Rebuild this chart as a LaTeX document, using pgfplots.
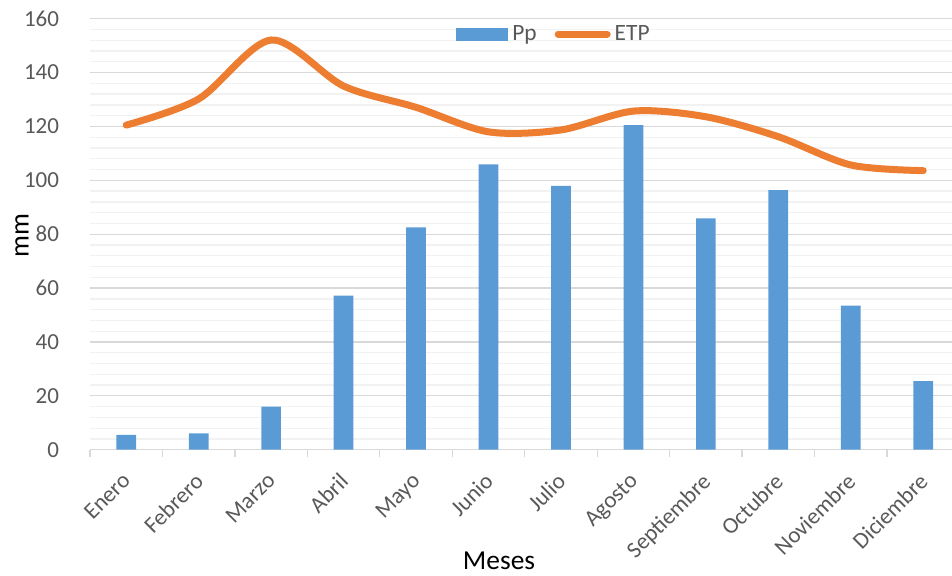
\documentclass[border=0pt]{standalone}
\usepackage{pgfplots}
\pgfplotsset{compat=1.18}
\usepackage{fontspec}
\setmainfont{Carlito}

\definecolor{ppblue}{HTML}{5B9BD5}
\definecolor{etporange}{HTML}{ED7D31}
\definecolor{majgrid}{HTML}{D9D9D9}
\definecolor{mingrid}{HTML}{F2F2F2}
\definecolor{ticktext}{HTML}{595959}

\begin{document}
\begin{tikzpicture}
\useasboundingbox (0,0) rectangle (476pt,287.5pt);
\begin{axis}[
  at={(45pt,62.65pt)}, anchor=south west,
  scale only axis,
  width=431pt, height=215.5pt,
  xmin=-0.5, xmax=11.397,
  ymin=0, ymax=160,
  ytick={0,20,...,160},
  minor y tick num=4,
  ymajorgrids, yminorgrids,
  major grid style={draw=majgrid, line width=0.65pt},
  minor grid style={draw=mingrid, line width=0.65pt},
  axis x line=bottom, axis y line=left,
  x axis line style={-, draw=majgrid, line width=0.65pt},
  y axis line style={draw=none},
  ytick style={draw=none},
  xtick={-0.5,0.5,...,10.5},
  xticklabels={Enero, Febrero, Marzo, Abril, Mayo, Junio, Julio, Agosto,
    Septiembre, Octubre, Noviembre, Diciembre},
  xtick style={draw=majgrid, line width=0.65pt},
  tick align=outside,
  major tick length=3.8pt,
  xticklabel style={xshift=15.5pt, yshift=-7pt, rotate=45, anchor=north east,
    inner sep=0pt, font=\fontsize{11.5}{13}\selectfont, text=ticktext},
  yticklabel style={anchor=east, inner sep=0pt, xshift=-11.5pt,
    font=\fontsize{11.5}{13}\selectfont, text=ticktext},
  /pgf/number format/assume math mode=true,
  xlabel={Meses}, ylabel={mm},
  xlabel style={at={(axis description cs:0.4745,-0.258)}, anchor=center,
    font=\fontsize{13.7}{15}\selectfont},
  ylabel style={at={(axis description cs:-0.0789,0.496)}, anchor=center,
    font=\fontsize{13.7}{15}\selectfont},
  legend columns=2,
  legend style={at={(axis description cs:0.5394,0.9645)}, anchor=center,
    draw=none, fill=none, inner sep=0pt,
    font=\fontsize{11.7}{13}\selectfont, text=ticktext,
    /tikz/every even column/.append style={column sep=7pt}},
]
\addplot[ybar, bar width=9.85pt, fill=ppblue, draw=none,
  legend image code/.code={\fill[ppblue] (0pt,-3.25pt) rectangle (26pt,3.25pt);}]
  coordinates {(0,5.5) (1,6.1) (2,16.0) (3,57.2) (4,82.5) (5,105.9)
    (6,97.9) (7,120.5) (8,85.9) (9,96.4) (10,53.5) (11,25.5)};
\addlegendentry{Pp}
\addplot[smooth, draw=etporange, line width=3.5pt, line cap=round,
  legend image code/.code={\draw[etporange, line width=3.5pt, line cap=round] (1.75pt,0pt) -- (26.25pt,0pt);}]
  coordinates {(0,120.5) (1,130.2) (2,152.1) (3,135.0) (4,127.1) (5,118.0)
    (6,118.7) (7,125.7) (8,123.6) (9,116.2) (10,105.7) (11,103.6)};
\addlegendentry{ETP}
\end{axis}
\end{tikzpicture}
\end{document}
